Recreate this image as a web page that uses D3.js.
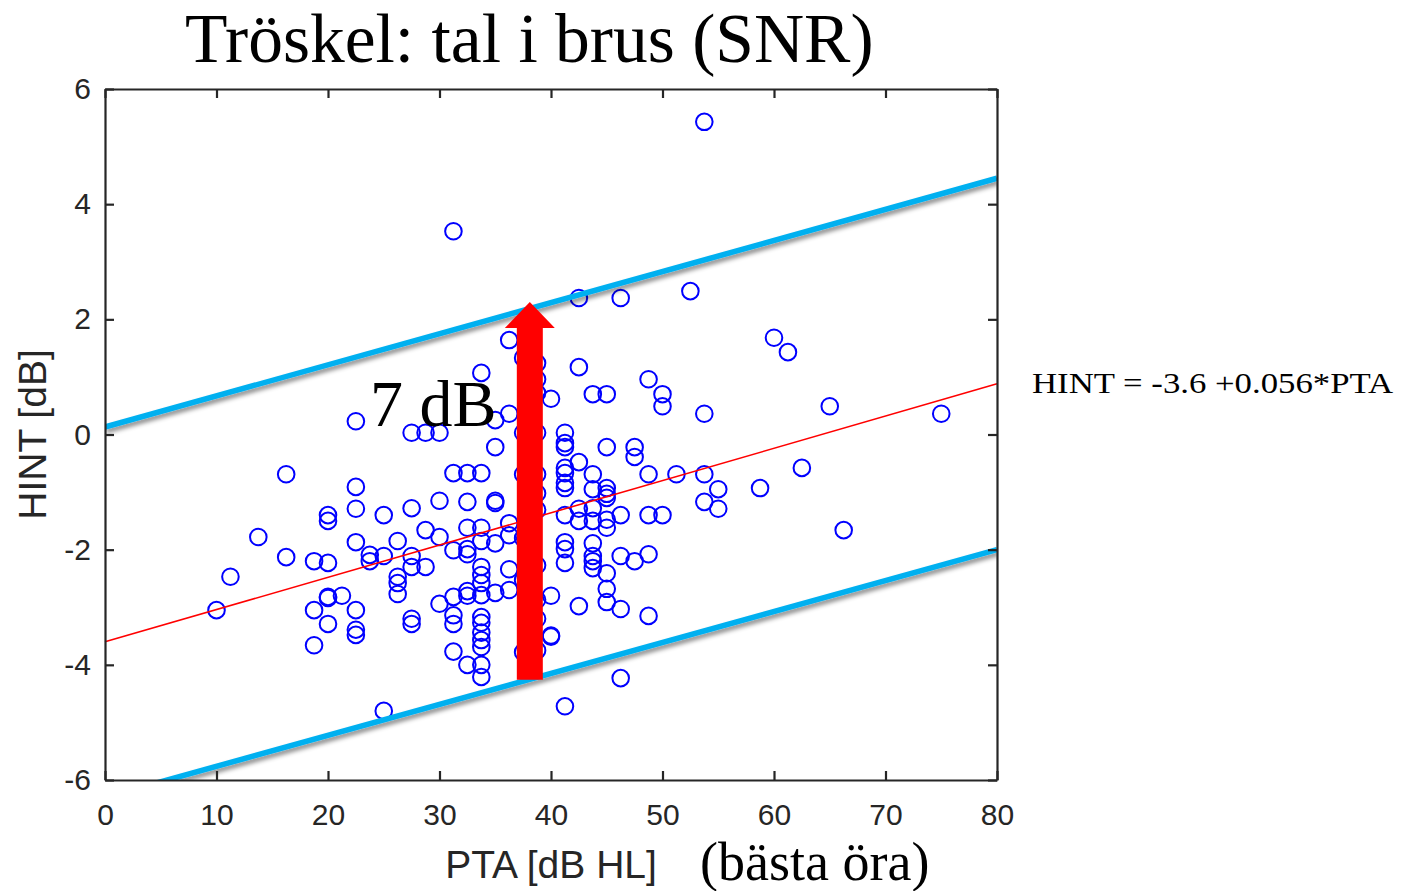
<!DOCTYPE html>
<html><head><meta charset="utf-8">
<script src="https://cdn.jsdelivr.net/npm/d3@7"></script>
<style>body{margin:0;background:#fff}</style>
</head><body>
<svg id="c" width="1412" height="891"></svg>
<script>
// ---- data ----
const xTicks = [0,10,20,30,40,50,60,70,80];
const yTicks = [-6,-4,-2,0,2,4,6];
const ptaColumns = [10,11.25,13.75,16.25,18.75,20,21.25,22.5,23.75,25,26.25,27.5,28.75,30,31.25,32.5,33.75,35,36.25,37.5,38.75,40,41.25,42.5,43.75,45,46.25,47.5,48.75,50,51.25,52.5,53.75,55,58.75,60,61.25,62.5,65,66.25,75];
const hintColumns = [
 [-3.05],
 [-2.47],
 [-1.78],
 [-0.69,-2.13],
 [-2.20,-3.05,-3.66],
 [-1.40,-1.50,-2.23,-2.82,-2.84,-3.29],
 [-2.80],
 [0.23,-0.91,-1.29,-1.87,-3.05,-3.39,-3.48],
 [-2.09,-2.20],
 [-1.40,-2.11,-4.80],
 [-1.85,-2.47,-2.58,-2.77],
 [0.03,-1.28,-2.11,-2.30,-3.20,-3.29],
 [0.03,-1.66,-2.30],
 [0.03,-1.15,-1.78,-2.94],
 [3.53,-0.67,-2.01,-2.82,-3.14,-3.29,-3.77],
 [-0.67,-1.17,-1.62,-1.99,-2.08,-2.72,-2.80,-4.00],
 [1.07,-0.67,-1.62,-1.85,-2.30,-2.44,-2.58,-2.79,-3.17,-3.27,-3.44,-3.57,-3.69,-4.00,-4.21],
 [0.25,-0.22,-1.15,-1.19,-1.89,-2.75],
 [1.64,0.36,-1.54,-1.75,-2.34,-2.70],
 [1.33,0.03,-0.69,-1.80,-2.53,-3.78],
 [1.24,0.96,0.72,0.03,-0.69,-1.02,-1.31,-2.27,-2.87,-3.20,-3.75],
 [0.62,-2.80,-3.51,-3.49],
 [0.03,-0.15,-0.22,-0.58,-0.67,-0.84,-0.93,-1.40,-1.87,-1.99,-2.23,-4.72],
 [2.37,1.17,-0.48,-1.29,-1.50,-2.98],
 [0.70,-0.69,-0.95,-1.28,-1.50,-1.89,-2.11,-2.20,-2.32],
 [0.70,-0.22,-0.93,-1.03,-1.10,-1.48,-1.62,-2.41,-2.68,-2.91],
 [2.37,-1.40,-2.11,-3.03,-4.23],
 [-0.22,-0.39,-2.20],
 [0.96,-0.69,-1.40,-2.08,-3.15],
 [0.70,0.49,-1.40],
 [-0.69],
 [2.49],
 [5.43,0.36,-0.69,-1.17],
 [-0.95,-1.29],
 [-0.93],
 [1.68],
 [1.43],
 [-0.58],
 [0.49],
 [-1.66],
 [0.36]
];
const fitIntercept = -3.6, fitSlope = 0.056;
const upperBand = [[0,0.13],[80,4.45]];
const lowerBand = [[0,-6.3],[80,-2.0]];
const arrowPta = 38.1, arrowFrom = -4.26, arrowTo = 2.30;
const titleText = "Tröskel: tal i brus (SNR)";
const xLabel = "PTA [dB HL]", xLabel2 = "(bästa öra)";
const yLabel = "HINT [dB]";
const eqText = "HINT = -3.6 +0.056*PTA";
const arrowText = "7 dB";

// ---- drawing ----
const svg = d3.select("#c");
const L=105, R=997, T=89, B=780;
const x = d3.scaleLinear().domain([0,80]).range([L,R]);
const y = d3.scaleLinear().domain([-6,6]).range([B,T]);
const axisColor = "#262626";
const sans = "'Liberation Sans', Arial, sans-serif";
const serif = "'Liberation Serif', 'Times New Roman', serif";

const defs = svg.append("defs");
defs.append("clipPath").attr("id","plotclip").append("rect")
  .attr("x",L).attr("y",T).attr("width",R-L).attr("height",B-T);
const f = defs.append("filter").attr("id","shadow").attr("x","-10%").attr("y","-50%").attr("width","120%").attr("height","300%");
f.append("feDropShadow").attr("dx",1.5).attr("dy",3.5).attr("stdDeviation",2.2).attr("flood-color","#000").attr("flood-opacity",0.45);

const points = [];
ptaColumns.forEach((p,i)=>hintColumns[i].forEach(h=>points.push({p,h})));

const plot = svg.append("g");
plot.selectAll("circle.pt").data(points).enter().append("circle")
  .attr("class","pt")
  .attr("cx",d=>x(d.p)).attr("cy",d=>y(d.h)).attr("r",8.3)
  .attr("fill","none").attr("stroke","#0000ff").attr("stroke-width",2);

const line = d3.line().x(d=>x(d[0])).y(d=>y(d[1]));
plot.append("path").datum([[0,fitIntercept],[80,fitIntercept+80*fitSlope]])
  .attr("d",line).attr("stroke","#ff0000").attr("stroke-width",1.6).attr("fill","none");

const bands = svg.append("g").attr("clip-path","url(#plotclip)");
[upperBand, lowerBand].forEach(b=>{
  bands.append("path").datum(b).attr("d",line)
    .attr("stroke","#00b0f0").attr("stroke-width",5.5).attr("fill","none")
    .attr("filter","url(#shadow)");
});

// arrow
const ax = x(arrowPta), ay0 = y(arrowFrom), ay1 = y(arrowTo);
const shaftW = 26, headW = 50, headL = 26;
svg.append("path")
  .attr("d",`M${ax-shaftW/2},${ay0} L${ax-shaftW/2},${ay1+headL} L${ax-headW/2},${ay1+headL} L${ax},${ay1} L${ax+headW/2},${ay1+headL} L${ax+shaftW/2},${ay1+headL} L${ax+shaftW/2},${ay0} Z`)
  .attr("fill","#ff0000");

svg.append("text").attr("x",370).attr("y",y(0)-9).attr("font-family",serif).attr("font-size",66)
  .attr("fill","#000").text(arrowText);

// axes
const fmt = d=>String(d);
const gx = svg.append("g").attr("transform",`translate(0,${B})`)
  .call(d3.axisBottom(x).tickValues(xTicks).tickFormat(fmt).tickSizeInner(-9).tickSizeOuter(0).tickPadding(24));
const gy = svg.append("g").attr("transform",`translate(${L},0)`)
  .call(d3.axisLeft(y).tickValues(yTicks).tickFormat(fmt).tickSizeInner(-9).tickSizeOuter(0).tickPadding(14));
const gt = svg.append("g").attr("transform",`translate(0,${T})`)
  .call(d3.axisTop(x).tickValues(xTicks).tickFormat("").tickSizeInner(-9).tickSizeOuter(0));
const gr = svg.append("g").attr("transform",`translate(${R},0)`)
  .call(d3.axisRight(y).tickValues(yTicks).tickFormat("").tickSizeInner(-9).tickSizeOuter(0));
[gx,gy,gt,gr].forEach(g=>{
  g.select(".domain").attr("stroke",axisColor).attr("stroke-width",2.2);
  g.selectAll(".tick line").attr("stroke",axisColor).attr("stroke-width",2.2);
  g.selectAll(".tick text").attr("fill",axisColor).attr("font-family",sans).attr("font-size",30);
});

// labels
svg.append("text").attr("x",(x(0)+x(80))/2).attr("y",878).attr("text-anchor","middle")
  .attr("font-family",sans).attr("font-size",39).attr("fill",axisColor).text(xLabel);
svg.append("text").attr("x",700).attr("y",880)
  .attr("font-family",serif).attr("font-size",54).attr("fill","#000").text(xLabel2);
svg.append("text").attr("transform",`translate(46,${(T+B)/2}) rotate(-90)`).attr("text-anchor","middle")
  .attr("font-family",sans).attr("font-size",39).attr("fill",axisColor).text(yLabel);
svg.append("text").attr("x",185).attr("y",62)
  .attr("font-family",serif).attr("font-size",69.5).attr("fill","#000").text(titleText);
svg.append("text").attr("x",1032).attr("y",393)
  .attr("font-family",serif).attr("font-size",29).attr("fill","#000")
  .attr("textLength",361).attr("lengthAdjust","spacingAndGlyphs").text(eqText);
</script>
</body></html>
